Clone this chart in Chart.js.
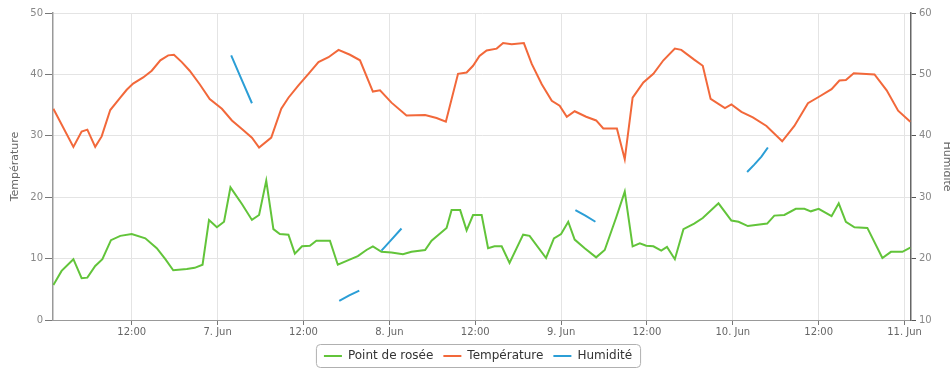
<!DOCTYPE html>
<html>
<head>
<meta charset="utf-8">
<title>Température / Point de rosée / Humidité</title>
<script src="https://cdn.jsdelivr.net/npm/chart.js@4/dist/chart.umd.min.js"></script>
<style>
    html, body { margin: 0; padding: 0; background: #fff; overflow: hidden; }
    #wrap { width: 956px; height: 372px; }
</style>
</head>
<body>
<div id="wrap"><canvas id="weather-chart" width="956" height="372"></canvas></div>
<script>
// Hours counted from 6 Jun 00:00
const tickHours = [12, 24, 36, 48, 60, 72, 84, 96, 108, 120];
const tickLabels = ['12:00', '7. Jun', '12:00', '8. Jun', '12:00', '9. Jun', '12:00', '10. Jun', '12:00', '11. Jun'];

const dewHours = [1.05, 2.2, 3.85, 5.0, 5.8, 6.9, 7.9, 9.1, 10.4, 12.0, 13.9, 15.5, 16.7, 17.8, 19.7, 20.8, 21.9, 22.8, 23.9, 24.9,
    25.8, 27.4, 28.8, 29.8, 30.8, 31.8, 32.7, 33.9, 34.8, 35.8, 36.9, 37.8, 39.7, 40.8, 42.2, 43.6, 44.8, 45.7, 46.9, 48.3,
    49.9, 51.1, 53.0, 53.9, 56.0, 56.7, 57.9, 58.8, 59.7, 60.9, 61.8, 62.7, 63.7, 64.8, 66.7, 67.6, 69.9, 71.0, 72.0, 73.0,
    73.9, 75.3, 76.9, 78.1, 79.7, 80.9, 82.0, 83.0, 83.9, 84.9, 86.0, 86.8, 87.9, 89.1, 90.6, 91.8, 94.0, 95.8, 96.8, 98.1,
    100.8, 101.8, 103.2, 104.8, 106.0, 106.9, 108.0, 109.8, 110.8, 111.8, 113.0, 114.8, 116.9, 118.1, 119.7, 120.8];
const dewValues = [5.7, 8.0, 9.9, 6.8, 6.9, 8.8, 9.9, 13.0, 13.7, 14.0, 13.3, 11.7, 9.9, 8.1, 8.3, 8.5, 9.0, 16.3, 15.1, 16.0,
    21.6, 18.9, 16.3, 17.1, 22.7, 14.8, 14.0, 13.9, 10.8, 12.0, 12.1, 12.9, 12.9, 9.0, 9.7, 10.4, 11.4, 12.0, 11.1, 11.0,
    10.7, 11.1, 11.4, 12.9, 15.0, 17.9, 17.9, 14.6, 17.1, 17.1, 11.7, 12.0, 12.0, 9.3, 13.9, 13.7, 10.1, 13.3, 14.0, 16.0,
    13.1, 11.7, 10.2, 11.4, 16.7, 20.9, 12.0, 12.5, 12.1, 12.0, 11.3, 11.9, 9.9, 14.8, 15.7, 16.6, 19.0, 16.2, 16.0, 15.3,
    15.7, 17.0, 17.1, 18.1, 18.1, 17.7, 18.1, 16.9, 19.0, 16.0, 15.1, 15.0, 10.1, 11.1, 11.1, 11.8];

const tempHours = [1.05, 3.85, 5.0, 5.8, 6.9, 7.8, 9.0, 10.4, 11.3, 12.2, 13.6, 14.8, 16.0, 17.1, 17.9, 19.0, 20.1, 21.5, 22.9, 24.6,
    26.0, 27.4, 28.8, 29.8, 31.5, 32.9, 33.9, 35.3, 36.7, 38.1, 39.5, 40.9, 42.5, 43.9, 45.7, 46.7, 48.3, 50.4, 53.0, 54.6,
    55.9, 57.6, 58.8, 59.7, 60.6, 61.6, 63.0, 63.9, 65.1, 66.8, 67.9, 69.3, 70.7, 71.8, 72.8, 73.9, 75.5, 76.9, 77.9, 79.8,
    80.9, 82.0, 83.5, 84.9, 86.3, 87.9, 88.8, 90.6, 91.8, 92.9, 94.9, 95.8, 97.2, 98.8, 100.7, 102.9, 104.6, 106.5, 108.1, 109.8,
    110.9, 111.8, 112.9, 115.8, 117.5, 119.1, 120.8];
const tempValues = [34.4, 28.2, 30.7, 31.0, 28.2, 29.9, 34.2, 36.2, 37.5, 38.5, 39.5, 40.6, 42.3, 43.1, 43.2, 42.0, 40.6, 38.4, 36.0, 34.4,
    32.5, 31.1, 29.7, 28.1, 29.7, 34.4, 36.2, 38.2, 40.1, 42.0, 42.8, 44.0, 43.2, 42.3, 37.2, 37.4, 35.4, 33.3, 33.4, 32.9,
    32.3, 40.1, 40.3, 41.4, 43.0, 43.9, 44.2, 45.1, 44.9, 45.1, 41.7, 38.4, 35.7, 34.9, 33.1, 34.0, 33.1, 32.5, 31.2, 31.2,
    26.2, 36.2, 38.7, 40.1, 42.3, 44.2, 44.0, 42.4, 41.4, 36.0, 34.5, 35.1, 33.9, 33.0, 31.6, 29.1, 31.6, 35.3, 36.4, 37.6,
    39.0, 39.1, 40.2, 40.0, 37.4, 34.1, 32.3];

// null values leave gaps between the short humidity runs
const humHours = [25.9, 27.3, 28.8, 29.5, 41.0, 42.4, 43.8, 44.5, 46.9, 48.3, 49.7, 50.5, 74.0, 75.4, 76.8, 77.5, 98.0, 99.0, 100.0, 100.9];
const humValues = [53.1, 49.3, 45.3, null, 13.1, 14.0, 14.8, null, 21.3, 23.1, 24.9, null, 27.9, 27.0, 26.0, null, 34.1, 35.3, 36.6, 38.1];

document.addEventListener('DOMContentLoaded', function() {
    initializeChart();
});

/**
 * Zip hour and value arrays into {x, y} points
 */
function toPoints(hours, values) {
    return hours.map((h, i) => ({ x: h, y: values[i] }));
}

/**
 * Draw a rounded frame around the legend items
 */
const legendFrame = {
    id: 'legendFrame',
    afterDraw(chart) {
        const boxes = chart.legend && chart.legend.legendHitBoxes;
        if (!boxes || !boxes.length) return;
        const left = Math.min(...boxes.map(b => b.left)) - 8;
        const right = Math.max(...boxes.map(b => b.left + b.width)) + 8;
        const top = Math.min(...boxes.map(b => b.top)) - 6;
        const bottom = Math.max(...boxes.map(b => b.top + b.height)) + 5;
        const ctx = chart.ctx;
        ctx.save();
        ctx.strokeStyle = '#b0b0b0';
        ctx.lineWidth = 1;
        ctx.beginPath();
        ctx.roundRect(left + 0.5, top + 0.5, right - left, bottom - top, 4);
        ctx.stroke();
        ctx.restore();
    }
};

/**
 * Build the weather line chart
 */
function initializeChart() {
    const canvas = document.getElementById('weather-chart');
    const ctx = canvas.getContext('2d');
    const font = { family: 'DejaVu Sans', size: 10 };

    new Chart(ctx, {
        type: 'line',
        data: {
            datasets: [
                {
                    label: 'Point de rosée',
                    data: toPoints(dewHours, dewValues),
                    borderColor: '#62c43a',
                    backgroundColor: '#62c43a',
                    borderWidth: 2,
                    pointRadius: 0,
                    tension: 0,
                    yAxisID: 'y'
                },
                {
                    label: 'Température',
                    data: toPoints(tempHours, tempValues),
                    borderColor: '#f2683a',
                    backgroundColor: '#f2683a',
                    borderWidth: 2,
                    pointRadius: 0,
                    tension: 0,
                    yAxisID: 'y'
                },
                {
                    label: 'Humidité',
                    data: toPoints(humHours, humValues),
                    borderColor: '#2b9ed6',
                    backgroundColor: '#2b9ed6',
                    borderWidth: 2,
                    pointRadius: 0,
                    tension: 0,
                    spanGaps: false,
                    yAxisID: 'y1'
                }
            ]
        },
        options: {
            responsive: false,
            animation: false,
            layout: {
                padding: { top: 13, left: 0, right: 0, bottom: 0 }
            },
            plugins: {
                legend: {
                    position: 'bottom',
                    labels: {
                        usePointStyle: true,
                        pointStyle: 'line',
                        pointStyleWidth: 18,
                        color: '#333',
                        font: { family: 'DejaVu Sans', size: 12 },
                        padding: 10
                    }
                },
                tooltip: { enabled: false }
            },
            scales: {
                x: {
                    type: 'linear',
                    min: 1,
                    max: 120.9,
                    afterBuildTicks: function(scale) {
                        scale.ticks = tickHours.map(v => ({ value: v }));
                    },
                    afterFit: function(scale) {
                        scale.height = 20;
                    },
                    ticks: {
                        color: '#666',
                        font: font,
                        maxRotation: 0,
                        autoSkip: false,
                        padding: 1,
                        callback: function(value) {
                            const idx = tickHours.indexOf(value);
                            return idx >= 0 ? tickLabels[idx] : '';
                        }
                    },
                    grid: {
                        color: '#e4e4e4',
                        tickColor: '#777',
                        tickLength: 5
                    },
                    border: { color: '#999', width: 1 }
                },
                y: {
                    position: 'left',
                    min: 0,
                    max: 50,
                    afterFit: function(scale) {
                        scale.width = 53;
                    },
                    ticks: {
                        stepSize: 10,
                        color: '#888',
                        font: font,
                        padding: 2
                    },
                    grid: {
                        color: '#e4e4e4',
                        tickColor: '#777',
                        tickLength: 8
                    },
                    border: { color: '#999', width: 1.5 },
                    title: {
                        display: true,
                        text: 'Température',
                        color: '#666',
                        font: { family: 'DejaVu Sans', size: 11 },
                        padding: { top: 9, bottom: 0 }
                    }
                },
                y1: {
                    position: 'right',
                    min: 10,
                    max: 60,
                    afterFit: function(scale) {
                        scale.width = 45;
                    },
                    ticks: {
                        stepSize: 10,
                        color: '#888',
                        font: font,
                        padding: 3
                    },
                    grid: {
                        drawOnChartArea: false,
                        tickColor: '#555',
                        tickLength: 5
                    },
                    border: { color: '#666', width: 1.5 },
                    title: {
                        display: true,
                        text: 'Humidité',
                        color: '#666',
                        font: { family: 'DejaVu Sans', size: 11 },
                        padding: { top: 3, bottom: 0 }
                    }
                }
            }
        },
        plugins: [legendFrame]
    });
}
</script>
</body>
</html>
